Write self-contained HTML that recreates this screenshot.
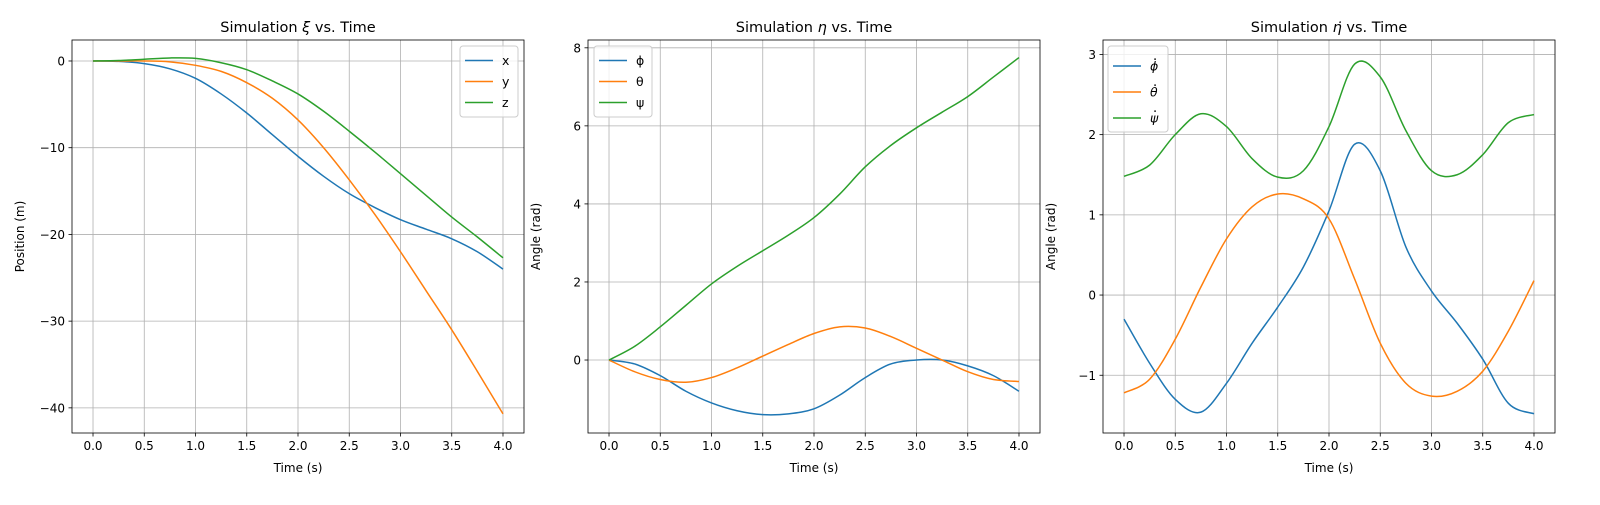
<!DOCTYPE html>
<html><head><meta charset="utf-8"><style>
body{margin:0;background:#fff}
svg text{font-family:"DejaVu Sans","Liberation Sans",sans-serif;fill:#000}
</style></head><body>
<svg id="chart" width="1600" height="500" xmlns="http://www.w3.org/2000/svg"></svg>
<script>
const times = [0,0.25,0.5,0.75,1,1.25,1.5,1.75,2,2.25,2.5,2.75,3,3.25,3.5,3.75,4];
const posX = [0,-0.05,-0.3,-0.9,-2.0,-3.8,-6.0,-8.5,-11.0,-13.3,-15.3,-16.9,-18.3,-19.4,-20.5,-22.0,-24.0];
const posY = [0,0,0,-0.1,-0.5,-1.2,-2.5,-4.3,-6.8,-10,-13.7,-17.7,-22,-26.5,-31,-35.8,-40.7];
const posZ = [0,0.05,0.2,0.35,0.3,-0.2,-1.0,-2.3,-3.8,-5.8,-8.1,-10.5,-13,-15.5,-18,-20.3,-22.7];
const phi = [0,-0.1,-0.4,-0.8,-1.1,-1.3,-1.4,-1.38,-1.25,-0.9,-0.45,-0.1,0.0,0.0,-0.15,-0.4,-0.8];
const theta = [0,-0.3,-0.5,-0.57,-0.45,-0.2,0.1,0.4,0.68,0.85,0.82,0.6,0.3,0,-0.3,-0.5,-0.55];
const psi = [0,0.35,0.85,1.4,1.95,2.4,2.8,3.2,3.65,4.25,4.95,5.5,5.95,6.35,6.75,7.25,7.75];
const phiDot = [-0.3,-0.85,-1.3,-1.46,-1.1,-0.6,-0.15,0.35,1.05,1.88,1.55,0.6,0.05,-0.35,-0.8,-1.35,-1.48];
const thetaDot = [-1.22,-1.05,-0.55,0.1,0.7,1.1,1.26,1.2,0.95,0.2,-0.6,-1.1,-1.26,-1.2,-0.95,-0.45,0.18];
const psiDot = [1.48,1.62,2.0,2.26,2.1,1.7,1.47,1.55,2.1,2.88,2.72,2.05,1.55,1.5,1.75,2.15,2.25];
const xTicks = [0,0.5,1,1.5,2,2.5,3,3.5,4];
const yTicks1 = [0,-10,-20,-30,-40];
const yTicks2 = [0,2,4,6,8];
const yTicks3 = [-1,0,1,2,3];
const colors = ['#1f77b4','#ff7f0e','#2ca02c'];
const svg = document.getElementById('chart');
const NS='http://www.w3.org/2000/svg';
function mk(tag,attrs,parent,text){const e=document.createElementNS(NS,tag);for(const k in attrs)e.setAttribute(k,attrs[k]);if(text!==undefined)e.textContent=text;(parent||svg).appendChild(e);return e;}
function fmt(v,dec){return (v<0?'\u2212':'')+Math.abs(v).toFixed(dec);}
function panel(o){
  const g=mk('g',{});
  
  
  const L=o.left,R=o.left+452,T=40,B=433;
  const sx=v=>L+(v+0.205)/(4.41)*(R-L);
  const sy=v=>B-(v-o.ymin)/(o.ymax-o.ymin)*(B-T);
  xTicks.forEach(t=>{const x=sx(t);
    const gl=mk('line',{x1:x,x2:x,y1:T,y2:B,stroke:'#b0b0b0','stroke-width':0.8},g);
    
    mk('line',{x1:x,x2:x,y1:B,y2:B+3.5,stroke:'#000','stroke-width':0.8},g);
    const tl=mk('text',{x:x,y:B+17,'font-size':12,'text-anchor':'middle'},g,t.toFixed(1));
    });
  o.yticks.forEach(t=>{const y=sy(t);
    const gl=mk('line',{x1:L,x2:R,y1:y,y2:y,stroke:'#b0b0b0','stroke-width':0.8},g);
    
    mk('line',{x1:L-3.5,x2:L,y1:y,y2:y,stroke:'#000','stroke-width':0.8},g);
    const tl=mk('text',{x:L-7,y:y+4.5,'font-size':12,'text-anchor':'end'},g,fmt(t,0));
    });
  o.series.forEach((s,i)=>{
    const p=s.map((v,j)=>[sx(times[j]),sy(v)]);
    let d='M'+p[0][0]+','+p[0][1];
    for(let j=0;j<p.length-1;j++){const p0=p[j-1]||p[j],p1=p[j],p2=p[j+1],p3=p[j+2]||p2;
      d+=` C${p1[0]+(p2[0]-p0[0])/6},${p1[1]+(p2[1]-p0[1])/6} ${p2[0]-(p3[0]-p1[0])/6},${p2[1]-(p3[1]-p1[1])/6} ${p2[0]},${p2[1]}`;}
    const path=mk('path',{d:d,fill:'none',stroke:colors[i],'stroke-width':1.5},g);
    });
  mk('rect',{x:L,y:T,width:R-L,height:B-T,fill:'none',stroke:'#000','stroke-width':0.8},g);
  const ti=mk('text',{x:(L+R)/2,y:T-8,'font-size':14.5,'text-anchor':'middle'},g);
  ti.innerHTML=o.title;
  
  const xl=mk('text',{x:(L+R)/2,y:472,'font-size':12,'text-anchor':'middle'},g,'Time (s)');
  
  const yl=mk('text',{x:0,y:0,'font-size':12,'text-anchor':'middle',transform:`translate(${o.left-48},${(T+B)/2}) rotate(-90)`},g,o.ylabel);
  
  const lg=mk('g',{},g);
  
  const lx=o.legX, lh=o.legRow;
  mk('rect',{x:lx,y:46,width:o.legW,height:lh*3+8,rx:3,fill:'#fff','fill-opacity':0.8,stroke:'#ccc','stroke-width':1},lg);
  o.labels.forEach((lab,i)=>{const y=46+4+lh*(i+0.5)+(o.italic?3:0);
    const e=mk('g',{},lg);
    
    mk('line',{x1:lx+5,x2:lx+33,y1:y,y2:y,stroke:colors[i],'stroke-width':1.5},e);
    mk('text',{x:lx+42,y:y+4.5,'font-size':12.5,'font-style':o.italic?'italic':'normal'},e,lab);
    if(o.italic){mk('text',{x:lx+45,y:y-6,'font-size':13},e,'.');}
  });
}
panel({name:'position-panel',left:72,ymin:-42.9,ymax:2.42,yticks:yTicks1,series:[posX,posY,posZ],keys:['x','y','z'],labels:['x','y','z'],title:'Simulation <tspan font-style="italic">ξ</tspan> vs. Time',ylabel:'Position (m)',legX:460,legW:58,legRow:21});
panel({name:'angle-panel',left:588,ymin:-1.87,ymax:8.2,yticks:yTicks2,series:[phi,theta,psi],keys:['phi','theta','psi'],labels:['ϕ','θ','ψ'],title:'Simulation <tspan font-style="italic">η</tspan> vs. Time',ylabel:'Angle (rad)',legX:594,legW:58,legRow:21});
panel({name:'angular-rate-panel',left:1103,ymin:-1.72,ymax:3.18,yticks:yTicks3,series:[phiDot,thetaDot,psiDot],keys:['phi-dot','theta-dot','psi-dot'],labels:['ϕ','θ','ψ'],title:'Simulation <tspan font-style="italic">η̇</tspan> vs. Time',ylabel:'Angle (rad)',legX:1108,legW:60,legRow:26,italic:true});
</script>
</body></html>
